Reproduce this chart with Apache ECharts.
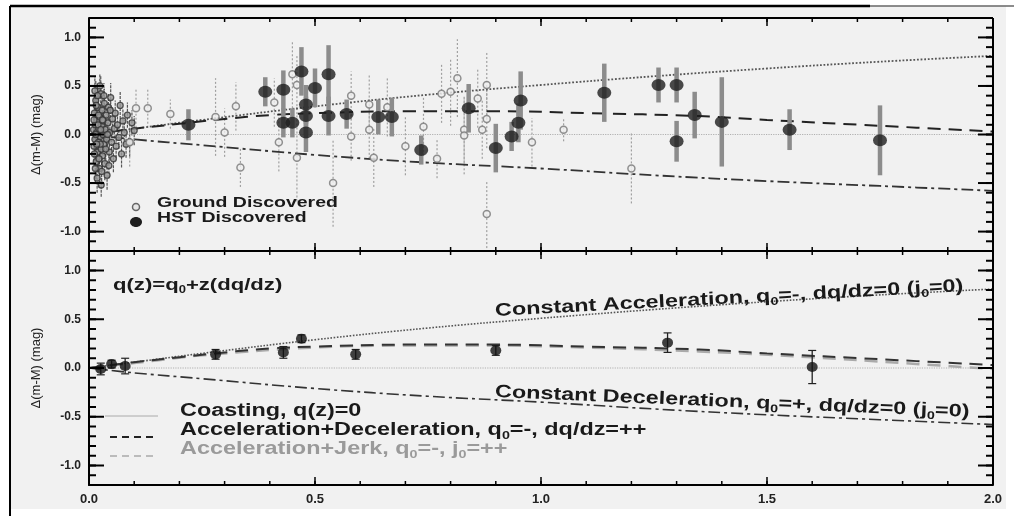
<!DOCTYPE html>
<html><head><meta charset="utf-8">
<script src="https://cdn.jsdelivr.net/npm/echarts@6/dist/echarts.min.js"></script>
<style>html,body{margin:0;padding:0;background:#fff}#c{width:1014px;height:516px}</style>
</head><body><div id="c"></div>
<script>
// ---------- DATA ----------
const yMajorTicks = [-1.0, -0.5, 0.0, 0.5, 1.0];
const yMinorTicks = [-1.2,-1.1,-1.0,-0.9,-0.8,-0.7,-0.6,-0.5,-0.4,-0.3,-0.2,-0.1,0,0.1,0.2,0.3,0.4,0.5,0.6,0.7,0.8,0.9,1.0,1.1,1.2];
const xMajorTicks = [0, 0.5, 1.0, 1.5, 2.0];
const xMinorTicks = [0,0.1,0.2,0.3,0.4,0.5,0.6,0.7,0.8,0.9,1.0,1.1,1.2,1.3,1.4,1.5,1.6,1.7,1.8,1.9,2.0];
const yAxisTitle = 'Δ(m-M) (mag)';

// Ground discovered SNe: [z, residual, error]
const groundLowZ = [
 [0.010,0.05,0.15],[0.011,-0.12,0.16],[0.012,0.22,0.18],[0.013,-0.05,0.12],[0.014,0.10,0.14],
 [0.015,0.35,0.20],[0.016,-0.28,0.18],[0.017,0.02,0.10],[0.018,0.15,0.12],[0.019,-0.18,0.15],
 [0.020,0.28,0.16],[0.021,-0.08,0.10],[0.022,0.06,0.12],[0.023,-0.35,0.20],[0.024,0.18,0.13],
 [0.025,-0.02,0.10],[0.026,0.42,0.18],[0.027,-0.15,0.14],[0.028,0.09,0.10],[0.029,0.25,0.15],
 [0.030,-0.22,0.16],[0.031,0.00,0.09],[0.032,0.14,0.12],[0.033,-0.10,0.12],[0.034,0.32,0.15],
 [0.035,-0.30,0.17],[0.036,0.05,0.10],[0.038,0.20,0.12],[0.039,-0.05,0.11],[0.040,-0.42,0.15],
 [0.042,0.12,0.10],[0.043,0.28,0.14],[0.045,-0.18,0.12],[0.046,0.02,0.10],[0.048,0.38,0.15],
 [0.050,-0.08,0.12],[0.052,0.16,0.12],[0.054,-0.25,0.14],[0.056,0.06,0.10],[0.058,0.22,0.13],
 [0.060,-0.12,0.12],[0.063,0.10,0.11],[0.066,-0.03,0.12],[0.069,0.30,0.14],[0.072,-0.20,0.14],
 [0.075,0.14,0.12],[0.078,0.02,0.13],[0.082,-0.10,0.14],[0.085,0.20,0.13],[0.090,-0.08,0.15],
 [0.095,0.12,0.13],[0.100,0.04,0.15],[0.013,0.45,0.15],[0.018,-0.45,0.15],[0.024,0.50,0.12],
 [0.027,-0.52,0.12],[0.015,0.00,0.10],[0.020,0.10,0.10],[0.025,-0.10,0.10],[0.030,0.15,0.10],
 [0.012,-0.20,0.12],[0.016,0.30,0.14],[0.019,0.40,0.12],[0.022,-0.25,0.12],[0.028,-0.38,0.14],
 [0.033,0.40,0.13],[0.037,-0.15,0.12],[0.041,0.00,0.12],[0.044,-0.32,0.13],[0.047,0.25,0.12],
 [0.011,0.15,0.10],[0.014,-0.35,0.15],[0.017,-0.10,0.12],[0.021,0.20,0.12],[0.026,0.05,0.10]
];
const groundHighZ = [
 [0.104,0.27,0.20],[0.130,0.27,0.20],[0.090,-0.08,0.25],[0.180,0.21,0.15],[0.280,0.18,0.40],
 [0.300,0.02,0.25],[0.325,0.29,0.25],[0.335,-0.34,0.20],[0.410,0.33,0.25],[0.420,-0.08,0.30],
 [0.450,0.62,0.35],[0.460,0.51,0.30],[0.460,-0.24,0.45],[0.540,-0.50,0.45],[0.580,0.40,0.25],
 [0.580,-0.02,0.25],[0.620,0.05,0.30],[0.620,0.31,0.30],[0.630,-0.24,0.30],[0.660,0.28,0.30],
 [0.700,-0.12,0.30],[0.740,0.08,0.30],[0.770,-0.25,0.20],[0.780,0.42,0.30],[0.800,0.44,0.35],
 [0.815,0.58,0.40],[0.830,0.05,0.35],[0.830,-0.01,0.40],[0.860,0.37,0.30],[0.870,0.05,0.30],
 [0.880,0.51,0.35],[0.880,0.16,0.30],[0.880,-0.82,0.35],[0.980,-0.08,0.25],[1.050,0.05,0.12],
 [1.200,-0.35,0.36]
];
// HST discovered SNe: [z, residual, error]
const hstPts = [
 [0.22,0.10,0.16],[0.39,0.44,0.15],[0.43,0.46,0.20],[0.43,0.12,0.15],[0.45,0.12,0.15],
 [0.47,0.65,0.25],[0.48,0.31,0.20],[0.48,0.19,0.20],[0.48,0.02,0.20],[0.50,0.48,0.20],
 [0.53,0.62,0.30],[0.53,0.19,0.20],[0.57,0.21,0.15],[0.64,0.18,0.18],[0.67,0.18,0.20],
 [0.735,-0.16,0.15],[0.84,0.27,0.25],[0.90,-0.14,0.25],[0.935,-0.02,0.15],[0.95,0.12,0.20],
 [0.955,0.35,0.30],[1.14,0.43,0.30],[1.26,0.51,0.18],[1.30,0.51,0.18],[1.30,-0.07,0.21],
 [1.34,0.20,0.24],[1.40,0.13,0.46],[1.55,0.05,0.21],[1.75,-0.06,0.36]
];
// Binned data (lower panel): [z, residual, error]
const binnedPts = [
 [0.026,-0.01,0.06],[0.05,0.04,0.04],[0.08,0.02,0.08],[0.28,0.14,0.05],[0.43,0.16,0.06],
 [0.47,0.30,0.04],[0.59,0.14,0.05],[0.90,0.18,0.05],[1.28,0.26,0.10],[1.60,0.01,0.17]
];
// Model curves
const coasting = [[0,0],[2,0]];
const constAcc = [[0,0],[0.1,0.06],[0.25,0.15],[0.5,0.29],[0.75,0.41],[1.0,0.51],[1.25,0.60],[1.5,0.68],[1.75,0.75],[2.0,0.81]];
const accDec = [[0,0],[0.1,0.06],[0.2,0.11],[0.3,0.16],[0.4,0.20],[0.5,0.22],[0.7,0.24],[0.9,0.24],[1.1,0.22],[1.35,0.19],[1.5,0.15],[1.75,0.09],[2.0,0.03]];
const accJerk = [[0,0],[0.1,0.05],[0.25,0.13],[0.5,0.21],[0.7,0.23],[0.9,0.23],[1.1,0.21],[1.35,0.17],[1.6,0.11],[1.8,0.05],[2.0,-0.01]];
const constDec = [[0,0],[0.1,-0.05],[0.25,-0.11],[0.5,-0.21],[0.75,-0.29],[1.0,-0.35],[1.25,-0.42],[1.5,-0.48],[1.75,-0.53],[2.0,-0.58]];

// ---------- CHART ----------
const FONT = '"Liberation Sans", Arial, Helvetica, sans-serif';
const X_MIN = 0, X_MAX = 2, Y_MIN = -1.2, Y_MAX = 1.2;
const chart = echarts.init(document.getElementById('c'), null, {renderer: 'canvas'});

function xAx(grid, labels) {
  return {
    type: 'value', gridIndex: grid, position: 'bottom', min: X_MIN, max: X_MAX, interval: 0.5,
    axisLine: {show: true, onZero: false, lineStyle: {color: '#000', width: 2}}, axisTick: {show: false},
    axisLabel: {show: labels, margin: 8, color: '#222', fontFamily: FONT, fontWeight: 'bold', fontSize: 13,
      formatter: v => v.toFixed(1)},
    splitLine: {show: false}
  };
}
function yAx(grid) {
  return {
    type: 'value', gridIndex: grid, position: 'left', min: Y_MIN, max: Y_MAX,
    axisLine: {show: true, onZero: false, lineStyle: {color: '#000', width: 2}}, axisTick: {show: false},
    axisLabel: {show: true, customValues: yMajorTicks, margin: 8, color: '#222', fontFamily: FONT, fontWeight: 'bold', fontSize: 12,
      formatter: v => v.toFixed(1)},
    splitLine: {show: false},
    name: yAxisTitle, nameLocation: 'middle', nameRotate: 90, nameGap: 46,
    nameTextStyle: {fontFamily: FONT, fontSize: 13, fontWeight: 'normal', color: '#222'}
  };
}

function errBar(color, width, dash, cap) {
  return function (params, api) {
    const x = api.value(0), y = api.value(1), e = api.value(2);
    const p1 = api.coord([x, y - e]), p2 = api.coord([x, y + e]);
    const children = [{type: 'line', shape: {x1: p1[0], y1: p1[1], x2: p2[0], y2: p2[1]},
      style: {stroke: color, lineWidth: width, lineDash: dash}}];
    if (cap) {
      children.push({type: 'line', shape: {x1: p1[0]-cap, y1: p1[1], x2: p1[0]+cap, y2: p1[1]}, style: {stroke: color, lineWidth: 1.2}});
      children.push({type: 'line', shape: {x1: p2[0]-cap, y1: p2[1], x2: p2[0]+cap, y2: p2[1]}, style: {stroke: color, lineWidth: 1.2}});
    }
    return {type: 'group', children: children};
  };
}
function lineS(data, xi, yi, color, width, type, z) {
  return {type: 'line', xAxisIndex: xi, yAxisIndex: yi, data: data, showSymbol: false, symbol: 'none',
    smooth: 0.4, lineStyle: {color: color, width: width, type: type}, z: z, silent: true};
}

const series = [
  // top panel (series 0..9)
  {type: 'custom', xAxisIndex: 0, yAxisIndex: 0, data: groundLowZ, renderItem: errBar('#555', 1.2, [3, 1]), z: 2, clip: true},
  {type: 'custom', xAxisIndex: 0, yAxisIndex: 0, data: groundHighZ, renderItem: errBar('#a0a0a0', 1.2, [2, 2]), z: 2, clip: true},
  lineS(coasting, 0, 0, '#b0b0b0', 1.2, 'dotted', 3),
  lineS(constAcc, 0, 0, '#555', 1.8, 'dotted', 3),
  lineS(accDec, 0, 0, '#222', 2, [13, 8], 3),
  lineS(constDec, 0, 0, '#333', 1.8, [12, 4, 3, 4], 3),
  {type: 'scatter', xAxisIndex: 0, yAxisIndex: 0, data: groundLowZ, symbol: 'circle', symbolSize: 6,
    itemStyle: {color: '#999', borderColor: '#333', borderWidth: 1.3}, z: 4, silent: true},
  {type: 'scatter', xAxisIndex: 0, yAxisIndex: 0, data: groundHighZ, symbol: 'circle', symbolSize: 7,
    itemStyle: {color: '#efefef', borderColor: '#777', borderWidth: 1.5}, z: 4, silent: true},
  {type: 'custom', xAxisIndex: 0, yAxisIndex: 0, data: hstPts, renderItem: errBar('#8c8c8c', 4.5, null), z: 5, clip: true},
  {type: 'scatter', xAxisIndex: 0, yAxisIndex: 0, data: hstPts, symbol: 'circle', symbolSize: [14, 12],
    itemStyle: {color: '#1e1e1e'}, z: 6, silent: true},
  // bottom panel (series 10..16)
  lineS(coasting, 1, 1, '#b0b0b0', 1.2, 'dotted', 3),
  lineS(constAcc, 1, 1, '#555', 1.6, 'dotted', 3),
  lineS(accJerk, 1, 1, '#aaaaaa', 2.5, [13, 8], 3),
  lineS(accDec, 1, 1, '#333', 2, [13, 8], 3),
  lineS(constDec, 1, 1, '#333', 1.6, [12, 4, 3, 4], 3),
  {type: 'custom', xAxisIndex: 1, yAxisIndex: 1, data: binnedPts, renderItem: errBar('#222', 1.3, null, 4), z: 5, clip: true},
  {type: 'scatter', xAxisIndex: 1, yAxisIndex: 1, data: binnedPts, symbol: 'circle', symbolSize: [11, 10],
    itemStyle: {color: '#111'}, z: 6, silent: true}
];

function txt(x, y, parts, size, color, rot) {
  let t = '', rich = {
    n: {fontFamily: FONT, fontSize: size, fontWeight: 'bold', fill: color, lineHeight: size + 2},
    s: {fontFamily: FONT, fontSize: Math.round(size * 0.6), fontWeight: 'bold', fill: color,
        lineHeight: Math.round(size * 0.6), padding: [Math.round(size * 0.62), 0, 0, 0]}
  };
  parts.forEach(p => { t += '{' + (p[1] ? 's' : 'n') + '|' + p[0] + '}'; });
  return {type: 'text', x: x, y: y, rotation: rot || 0, scaleX: 1.3, z: 50, silent: true,
    style: {text: t, rich: rich, verticalAlign: 'middle', align: 'left'}};
}

const graphics = [
  {type: 'rect', shape: {x: 0, y: 0, width: 1014, height: 6}, style: {fill: '#ffffff'}, silent: true},
  {type: 'rect', shape: {x: 0, y: 0, width: 10, height: 516}, style: {fill: '#ffffff'}, silent: true},
  {type: 'rect', shape: {x: 1006, y: 0, width: 8, height: 516}, style: {fill: '#ffffff'}, silent: true},
  {type: 'rect', shape: {x: 0, y: 509, width: 1014, height: 7}, style: {fill: '#ffffff'}, silent: true},
  {type: 'line', shape: {x1: 10, y1: 6, x2: 10, y2: 516}, style: {stroke: '#000', lineWidth: 2}, z: 50, silent: true},
  {type: 'line', shape: {x1: 10, y1: 6, x2: 870, y2: 6}, style: {stroke: '#000', lineWidth: 2.5}, z: 50, silent: true},
  {type: 'line', shape: {x1: 870, y1: 6, x2: 1014, y2: 6}, style: {stroke: '#666', lineWidth: 1.5}, z: 50, silent: true},
  // top legend
  {type: 'circle', shape: {cx: 136, cy: 207, r: 3.5}, style: {fill: '#e6e6e6', stroke: '#666', lineWidth: 1.5}, z: 50, silent: true},
  {type: 'ellipse', shape: {cx: 136, cy: 222, rx: 6, ry: 5}, style: {fill: '#1e1e1e'}, z: 50, silent: true},
  txt(157, 203, [['Ground Discovered']], 15, '#1a1a1a'),
  txt(157, 218, [['HST Discovered']], 15, '#1a1a1a'),
  // bottom panel annotations
  txt(113, 285, [['q(z)=q'], ['0', 1], ['+z(dq/dz)']], 17, '#1a1a1a'),
  txt(495, 311, [['Constant Acceleration, q'], ['0', 1], ['=-, dq/dz=0 (j'], ['0', 1], ['=0)']], 18, '#1a1a1a', 0.053),
  txt(495, 392, [['Constant Deceleration, q'], ['0', 1], ['=+, dq/dz=0 (j'], ['0', 1], ['=0)']], 18, '#1a1a1a', -0.042),
  {type: 'line', shape: {x1: 105, y1: 416, x2: 158, y2: 416}, style: {stroke: '#aaa', lineWidth: 1}, z: 50, silent: true},
  {type: 'line', shape: {x1: 110, y1: 437, x2: 156, y2: 437}, style: {stroke: '#222', lineWidth: 2, lineDash: [7, 5]}, z: 50, silent: true},
  {type: 'line', shape: {x1: 110, y1: 456, x2: 156, y2: 456}, style: {stroke: '#bbb', lineWidth: 2, lineDash: [7, 5]}, z: 50, silent: true},
  txt(180, 411, [['Coasting, q(z)=0']], 18, '#1a1a1a'),
  txt(180, 430, [['Acceleration+Deceleration, q'], ['0', 1], ['=-, dq/dz=++']], 18, '#1a1a1a'),
  txt(180, 449, [['Acceleration+Jerk, q'], ['0', 1], ['=-, j'], ['0', 1], ['=++']], 18, '#9a9a9a')
];

const option = {
  animation: false,
  backgroundColor: '#f1f1f1',
  grid: [
    {left: 89, top: 18, width: 904, height: 233, show: false},
    {left: 89, top: 251, width: 904, height: 234, show: false}
  ],
  xAxis: [xAx(0, false), xAx(1, true)],
  yAxis: [yAx(0), yAx(1)],
  series: series,
  graphic: graphics
};
chart.setOption(option);

// Frame and tick marks, positioned through the chart's own axis scales
function deco(seriesIdx) {
  const els = [];
  const P = (x, y) => chart.convertToPixel({seriesIndex: seriesIdx}, [x, y]);
  const L = (x1, y1, x2, y2, w) => els.push({type: 'line', shape: {x1: x1, y1: y1, x2: x2, y2: y2},
    style: {stroke: '#000', lineWidth: w}, z: 60, silent: true});
  const p0 = P(X_MIN, Y_MIN), p1 = P(X_MAX, Y_MAX);
  L(p0[0], p0[1], p1[0], p0[1], 2);
  L(p0[0], p1[1], p1[0], p1[1], 2);
  L(p0[0], p0[1], p0[0], p1[1], 2);
  L(p1[0], p0[1], p1[0], p1[1], 2);
  const yt = (v, len) => { const a = P(X_MIN, v), b = P(X_MAX, v);
    L(a[0], a[1], a[0] + len, a[1], 2); L(b[0] - len, b[1], b[0], b[1], 2); };
  const xt = (v, len) => { const a = P(v, Y_MIN), b = P(v, Y_MAX);
    L(a[0], a[1], a[0], a[1] - len, 1.5); L(b[0], b[1], b[0], b[1] + len, 1.5); };
  yMinorTicks.forEach(v => yt(v, 7));
  yMajorTicks.forEach(v => yt(v, 15));
  xMinorTicks.forEach(v => xt(v, 4));
  xMajorTicks.forEach(v => xt(v, 8));
  return els;
}
let extra = [];
try {
  extra = deco(9).concat(deco(16));
} catch (e) {
  extra = [{type: 'text', x: 700, y: 495, z: 70, style: {text: 'ERR ' + e.message, fill: '#f00', fontSize: 10}}];
}
chart.setOption({graphic: graphics.concat(extra)});
</script></body></html>
